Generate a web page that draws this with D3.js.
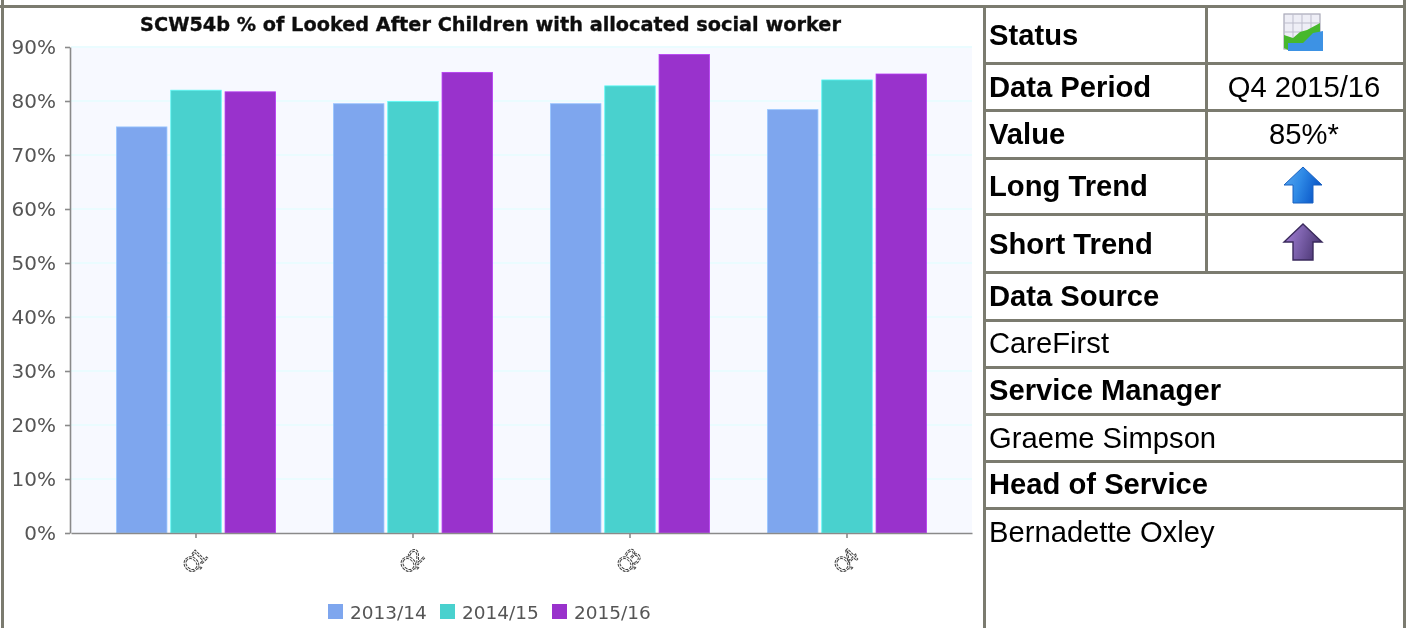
<!DOCTYPE html>
<html><head><meta charset="utf-8">
<style>html,body{margin:0;padding:0;background:#fff}svg{display:block}</style>
<script src="https://cdn.jsdelivr.net/npm/d3@7/dist/d3.min.js"></script>
</head><body><svg id="c" width="1406" height="628"></svg>
<script>
const titleText = "SCW54b % of Looked After Children with allocated social worker";
const categories = ["Q1","Q2","Q3","Q4"];
const seriesNames = ["2013/14","2014/15","2015/16"];
const colors = ["#7ea6ee","#4ad1ce","#9932cc"];
const values201314 = [75.2,79.5,79.5,78.4];
const values201415 = [82.0,79.9,82.8,83.9];
const values201516 = [81.7,85.3,88.6,85.0];
const yTicks = [0,10,20,30,40,50,60,70,80,90];
const topRows = [["Status","icon-status"],["Data Period","Q4 2015/16"],["Value","85%*"],["Long Trend","icon-long"],["Short Trend","icon-short"]];
const lowerRows = [["Data Source",true],["CareFirst",false],["Service Manager",true],["Graeme Simpson",false],["Head of Service",true],["Bernadette Oxley",false]];

const svg = d3.select("#c");
const defs = svg.append("defs");
defs.append("filter").attr("id","soft").attr("x","-5%").attr("y","-5%").attr("width","110%").attr("height","110%")
  .append("feGaussianBlur").attr("stdDeviation",0.45);
function grad(id,stops){const g=defs.append("linearGradient").attr("id",id).attr("x1",0).attr("x2",1).attr("y1",0).attr("y2",0.3);
  stops.forEach((s,i)=>g.append("stop").attr("offset",i/(stops.length-1)).attr("stop-color",s));}
grad("gb",["#5ba8ee","#2f8ae6","#0b58c8"]);
grad("gp",["#a67fd8","#7d62ad","#4f3a78"]);

const L=71,R=972,T=47,B=533;
const chart = svg.append("g");
const y = d3.scaleLinear().domain([0,90]).range([B,T]);
const x = d3.scaleBand().domain(categories).range([L,R]).paddingInner(0.267).paddingOuter(0.2095);
const x1 = d3.scaleBand().domain(seriesNames).range([0,x.bandwidth()]).paddingInner(0.07);

chart.append("rect").attr("x",L).attr("y",T).attr("width",R-L).attr("height",B-T).attr("fill","#f7f9ff");
chart.selectAll(".g").data(yTicks.filter(d=>d>0)).join("line")
  .attr("x1",L).attr("x2",R).attr("y1",d=>y(d)).attr("y2",d=>y(d)).attr("stroke","#eafcff").attr("stroke-width",2);

const series=[values201314,values201415,values201516];
seriesNames.forEach((s,i)=>{
  chart.selectAll(".b"+i).data(categories).join("rect")
   .attr("x",d=>x(d)+x1(s)).attr("width",x1.bandwidth())
   .attr("y",(d,j)=>y(series[i][j])).attr("height",(d,j)=>B-y(series[i][j]))
   .attr("fill",colors[i]).attr("stroke",d3.color(colors[i]).brighter(0.5)).attr("stroke-width",0.8);
});

const axY = chart.append("g").attr("transform",`translate(${L-1},0)`).call(d3.axisLeft(y).tickValues(yTicks).tickFormat(d=>d+"%").tickSize(5).tickSizeOuter(0));
const axX = chart.append("g").attr("transform",`translate(0,${B})`).call(d3.axisBottom(x).tickSize(5).tickSizeOuter(0));
[axY,axX].forEach(a=>{a.selectAll("path,line").attr("stroke","#8a8a8a").attr("stroke-width",1.6);
  a.selectAll("text").attr("fill","#555").style("font-family","DejaVu Sans").style("font-size","20px");});
axY.selectAll("text").attr("x",-14);
axX.selectAll("text").attr("y",null).attr("dy",null).attr("text-anchor","middle")
  .attr("transform","translate(-1,30) rotate(-45)").attr("dominant-baseline","middle")
  .style("letter-spacing","-3px").attr("fill","none").attr("stroke","#444").attr("stroke-width",1).attr("stroke-dasharray","3 1");

chart.append("text").attr("x",490.5).attr("y",31).attr("text-anchor","middle")
  .style("font-family","DejaVu Sans").style("font-weight","bold").style("font-size","19.3px").attr("fill","#111").attr("stroke","#111").attr("stroke-width",0.35).text(titleText);

const legX=d3.scaleOrdinal().domain(seriesNames).range([328,440,552]);
const leg=chart.selectAll(".l").data(seriesNames).join("g").attr("transform",d=>`translate(${legX(d)},604)`);
leg.append("rect").attr("width",15).attr("height",15).attr("fill",(d,i)=>colors[i]);
leg.append("text").attr("x",22).attr("y",15).style("font-family","DejaVu Sans").style("font-size","18.5px").attr("fill","#555").text(d=>d);
chart.attr("filter","url(#soft)");

// table frame
const border="#7b7b6f";
const hLines=[6.5,63.5,110.5,158.5,214.5,272.5,320.5,367.5,414.5,461.5,508.5];
const rowsG=svg.append("g");
rowsG.selectAll(".h").data(hLines).join("line").attr("x1",d=>d===6.5?0:984).attr("x2",1406).attr("y1",d=>d).attr("y2",d=>d).attr("stroke",border).attr("stroke-width",3);
const vL=[[2.5,0,628],[984.5,6,628],[1206.5,6,272],[1404.5,0,628]];
rowsG.selectAll(".v").data(vL).join("line").attr("x1",d=>d[0]).attr("x2",d=>d[0]).attr("y1",d=>d[1]).attr("y2",d=>d[2]).attr("stroke",border).attr("stroke-width",3);

const F="Liberation Sans";
const FS="29.2px";
const topY=[45,97,144,196,254];
topRows.forEach((r,i)=>{
  svg.append("text").attr("x",989).attr("y",topY[i]).style("font-family",F).style("font-weight","bold").style("font-size",FS).attr("fill","#000").text(r[0]);
  if(!r[1].startsWith("icon")) svg.append("text").attr("x",1304).attr("y",topY[i]).attr("text-anchor","middle").style("font-family",F).style("font-size",FS).attr("fill","#000").text(r[1]);
});
const lowY=[306,353,400,448,494,542];
lowerRows.forEach((r,i)=>{
  svg.append("text").attr("x",989).attr("y",lowY[i]).style("font-family",F).style("font-weight",r[1]?"bold":"normal").style("font-size",FS).attr("fill","#000").text(r[0]);
});

// icons
const st=svg.append("g").attr("transform","translate(1284,14)");
st.append("rect").attr("x",0).attr("y",0).attr("width",36).attr("height",35).attr("fill","#eeeef6").attr("stroke","#a8a8b8").attr("stroke-width",1.2);
[9,18,27].forEach(v=>{st.append("line").attr("x1",v).attr("x2",v).attr("y1",0).attr("y2",35).attr("stroke","#bdbdcc");st.append("line").attr("x1",0).attr("x2",36).attr("y1",v).attr("y2",v).attr("stroke","#bdbdcc");});
st.append("path").attr("d","M0,21 L9,24 L16,18 L23,16 L36,9 L36,26 L4,36 L0,34 Z").attr("fill","#47b82c");
st.append("path").attr("d","M4,37 L4,29 L19,29 L29,19 L39,17 L39,37 Z").attr("fill","#3d92e4");
const arrow="M0,-18 L19,0 L10,0 L10,18 L-10,18 L-10,0 L-19,0 Z";
svg.append("path").attr("d",arrow).attr("transform","translate(1303,185)").attr("fill","url(#gb)").attr("stroke","#1860c0").attr("stroke-width",1);
svg.append("path").attr("d",arrow).attr("transform","translate(1303,242)").attr("fill","url(#gp)").attr("stroke","#3a2a5c").attr("stroke-width",1.4);
</script></body></html>
